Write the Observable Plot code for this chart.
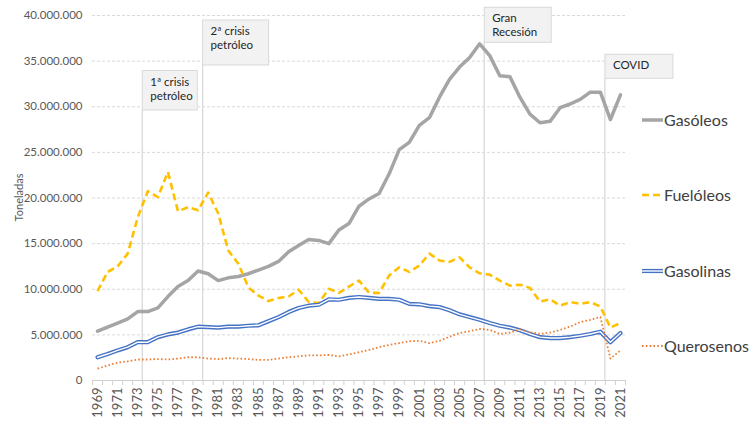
<!DOCTYPE html>
<html><head><meta charset="utf-8">
<script src="https://cdn.jsdelivr.net/npm/d3@7"></script>
<script src="https://cdn.jsdelivr.net/npm/@observablehq/plot@0.6"></script>
<style>
html,body{margin:0;padding:0;background:#fff;}
#chart{width:754px;height:425px;}
</style></head><body><div id="chart"></div>
<script>
// ---- data (millions of tonnes) ----
const years = d3.range(1969, 2022);
const gasoleos = [5.4,5.85,6.3,6.75,7.55,7.55,7.95,9.2,10.3,10.95,
  12.0,11.7,10.95,11.25,11.4,11.7,12.1,12.5,13.05,14.1,
  14.8,15.45,15.35,15.0,16.5,17.2,19.1,19.9,20.5,22.65,
  25.3,26.1,27.95,28.8,31.05,33.0,34.35,35.4,36.9,35.6,
  33.4,33.3,31.05,29.2,28.25,28.4,29.9,30.3,30.8,31.6,
  31.6,28.6,31.3];
const fueloleos = [9.8,11.9,12.5,13.9,17.9,20.75,20.1,22.85,18.55,19.0,
  18.65,20.6,18.3,14.25,12.8,10.2,9.3,8.7,9.05,9.2,
  9.95,8.6,8.5,10.05,9.6,10.3,10.95,9.6,9.6,11.5,
  12.4,11.9,12.6,13.9,13.15,13.0,13.5,12.4,11.75,11.6,
  10.95,10.4,10.5,10.15,8.65,8.9,8.2,8.6,8.4,8.6,
  8.1,5.8,6.3];
const gasolinas = [2.55,2.9,3.3,3.65,4.2,4.2,4.75,5.05,5.25,5.6,
  5.9,5.85,5.8,5.9,5.9,6.0,6.05,6.5,6.95,7.5,
  7.95,8.2,8.3,8.9,8.85,9.05,9.15,9.05,8.95,8.95,
  8.85,8.4,8.35,8.15,8.05,7.7,7.25,6.95,6.65,6.3,
  6.0,5.8,5.5,5.1,4.75,4.65,4.65,4.75,4.9,5.1,
  5.35,4.2,5.2];
const querosenos = [1.3,1.65,1.95,2.1,2.3,2.3,2.35,2.3,2.4,2.55,
  2.55,2.4,2.35,2.45,2.4,2.35,2.25,2.25,2.4,2.55,
  2.65,2.75,2.75,2.8,2.65,2.85,3.1,3.35,3.65,3.9,
  4.1,4.3,4.35,4.1,4.35,4.8,5.2,5.4,5.65,5.55,
  5.1,5.25,5.6,5.3,5.1,5.25,5.55,5.9,6.4,6.65,
  6.95,2.4,3.3];
const seriesNames = ["Gasóleos","Fuelóleos","Gasolinas","Querosenos"];
const yTicks = [0,5,10,15,20,25,30,35,40];
const xLabelYears = years.filter(y => y % 2 === 1);
const eventYears = [1973.5, 1979.5, 2007.5, 2019.5];
const eventLabels = [["1ª crisis","petróleo"],["2ª crisis","petróleo"],["Gran","Recesión"],["COVID"]];
const yTitle = "Toneladas";

// ---- styles / layout (not data) ----
const styles = {
  "Gasóleos":  {stroke:"#a5a5a5", width:3.5, dash:null},
  "Fuelóleos": {stroke:"#ffc000", width:2.6, dash:"7,4"},
  "Gasolinas": {stroke:"#4472c4", width:4.2, dash:null, inner:"#ffffff", innerWidth:1.4},
  "Querosenos":{stroke:"#ed7d31", width:1.8, dash:"1.6,2.2"}
};
const boxLayout = [
  {top:70.5, h:39.5, w:55},
  {top:20, h:45, w:66},
  {top:7.3, h:35, w:67},
  {top:54.3, h:24, w:68}
];
const legendY = [120, 195, 271, 346];
const FONT = "Lato, 'Open Sans', sans-serif";

const allValues = [gasoleos, fueloleos, gasolinas, querosenos];
const rows = [];
seriesNames.forEach((s, k) => years.forEach((yr, i) => rows.push({serie:s, year:yr, v:allValues[k][i]})));
const boundaries = d3.range(1968.5, 2022, 1);
const fmt = d => d === 0 ? "0" : d3.format(",")(d * 1e6).replace(/,/g, ".");

const lineMarks = [];
seriesNames.forEach(s => {
  const st = styles[s];
  const data = rows.filter(r => r.serie === s);
  lineMarks.push(Plot.line(data, {x:"year", y:"v", stroke:st.stroke, strokeWidth:st.width,
    strokeDasharray:st.dash || undefined, strokeLinejoin:"round", strokeLinecap: st.dash ? "butt" : "round"}));
  if (st.inner) lineMarks.push(Plot.line(data, {x:"year", y:"v", stroke:st.inner, strokeWidth:st.innerWidth, strokeLinejoin:"round"}));
});

const plot = Plot.plot({
  width:754, height:425,
  marginLeft:92, marginRight:129, marginTop:15, marginBottom:45,
  style:{fontFamily:FONT, background:"#ffffff", overflow:"visible"},
  x:{domain:[1968.5, 2021.5]},
  y:{domain:[0, 40]},
  marks:[
    Plot.gridY(yTicks.filter(d => d > 0), {stroke:"#cfcfcf", strokeOpacity:1, strokeDasharray:"3,2", strokeWidth:0.8}),
    Plot.axisY({ticks:yTicks, tickFormat:fmt, tickSize:0, tickPadding:10, fontSize:11.5, color:"#595959", label:null}),
    Plot.axisX({ticks:boundaries, tickSize:5, tickFormat:() => "", color:"#d0d0d0", label:null}),
    Plot.axisX({ticks:xLabelYears, tickSize:0, tickRotate:-90, tickPadding:7, fontSize:13, color:"#595959", tickFormat:d => String(d), label:null}),
    Plot.ruleY([0], {stroke:"#d0d0d0", strokeWidth:1}),
    ...lineMarks
  ]
});

document.getElementById("chart").appendChild(plot);
const svg = d3.select(plot);
const xs = plot.scale("x"), ys = plot.scale("y");
const y0 = ys.apply(0);

// event annotations
const ann = svg.append("g").attr("text-anchor", "start");
eventYears.forEach((yr, i) => {
  const x = xs.apply(yr), b = boxLayout[i];
  ann.append("line").attr("x1", x).attr("x2", x).attr("y1", b.top + b.h).attr("y2", y0)
    .attr("stroke", "#d9d9d9").attr("stroke-width", 1.3);
  ann.append("rect").attr("x", x).attr("y", b.top).attr("width", b.w).attr("height", b.h)
    .attr("fill", "#f2f2f2").attr("stroke", "#d9d9d9").attr("stroke-width", 1);
  eventLabels[i].forEach((t, j) => {
    ann.append("text").attr("x", x + 8).attr("y", b.top + 11 + j * 14).attr("dy", "0.35em")
      .attr("text-anchor", "start")
      .attr("font-size", 11.5).attr("fill", "#262626").attr("font-family", FONT).text(t);
  });
});
// keep series lines above the annotation rules
svg.selectAll("g[aria-label='line']").raise();

// legend
const leg = svg.append("g").attr("text-anchor", "start");
seriesNames.forEach((s, i) => {
  const st = styles[s], y = legendY[i];
  leg.append("line").attr("x1", 642).attr("x2", 663).attr("y1", y).attr("y2", y)
    .attr("stroke", st.stroke).attr("stroke-width", st.width)
    .attr("stroke-dasharray", st.dash || null);
  if (st.inner) leg.append("line").attr("x1", 642).attr("x2", 663).attr("y1", y).attr("y2", y)
    .attr("stroke", st.inner).attr("stroke-width", st.innerWidth);
  leg.append("text").attr("x", 664).attr("y", y).attr("dy", "0.35em").attr("font-size", 16)
    .attr("text-anchor", "start")
    .attr("fill", "#404040").attr("font-family", FONT).text(s);
});

// y title
svg.append("text").attr("transform", `translate(19,${(ys.apply(0) + ys.apply(40)) / 2}) rotate(-90)`)
  .attr("text-anchor", "middle").attr("dy", "0.35em").attr("font-size", 11).attr("fill", "#595959")
  .attr("font-family", FONT).text(yTitle);
</script></body></html>
